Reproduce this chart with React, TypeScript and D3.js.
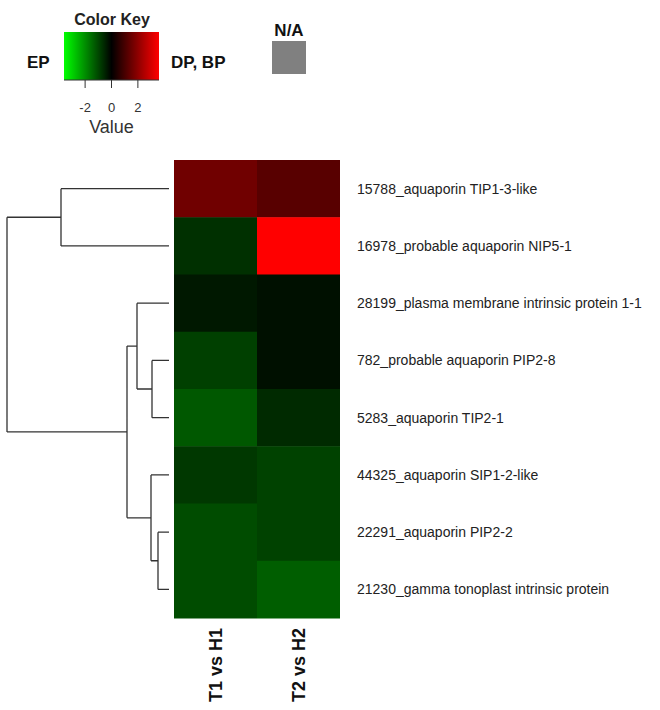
import * as d3 from 'd3';

const genes = [
    "15788_aquaporin TIP1-3-like",
    "16978_probable aquaporin NIP5-1",
    "28199_plasma membrane intrinsic protein 1-1",
    "782_probable aquaporin PIP2-8",
    "5283_aquaporin TIP2-1",
    "44325_aquaporin SIP1-2-like",
    "22291_aquaporin PIP2-2",
    "21230_gamma tonoplast intrinsic protein",
];
const comparisons = ["T1 vs H1", "T2 vs H2"];
const t1Values = [1.58, -0.68, -0.34, -0.9, -1.24, -0.79, -1.07, -1.07];
const t2Values = [1.24, 3.6, -0.23, -0.23, -0.59, -0.93, -0.93, -1.33];
const keyTicks = [-2, 0, 2];

// row dendrogram, merge heights
type Node = { name?: string; h: number; children?: Node[] };
const leaf = (i: number): Node => ({ name: genes[i], h: 0 });
const tree: Node = {
    h: 16.2,
    children: [
        { h: 10.8, children: [leaf(0), leaf(1)] },
        {
            h: 4.2,
            children: [
                { h: 3.2, children: [leaf(2), { h: 1.7, children: [leaf(3), leaf(4)] }] },
                { h: 1.8, children: [leaf(5), { h: 1.1, children: [leaf(6), leaf(7)] }] },
            ],
        },
    ],
};

const W = 660, H = 710;
const heat = { left: 174, right: 340, top: 160, bottom: 618 };
const dendro = { leafX: 169, rootX: 7 };
const key = { left: 64, right: 159, top: 32, bottom: 80 };
const FONT = "'Liberation Sans', Arial, sans-serif";

export default function App() {
    const x = d3.scaleBand().domain(comparisons).range([heat.left, heat.right]);
    const y = d3.scaleBand().domain(genes).range([heat.top, heat.bottom]);
    const color = d3.scaleLinear<string>()
        .domain([-3.6, 0, 3.6])
        .range(["#00ff00", "#000000", "#ff0000"])
        .clamp(true);
    const hx = d3.scaleLinear().domain([0, tree.h]).range([dendro.leafX, dendro.rootX]);
    const keyX = d3.scaleLinear().domain([-3.6, 3.6]).range([key.left, key.right]);

    const columns = [t1Values, t2Values];

    // walk the tree: leaf y is the row centre, a node sits halfway between its children
    const segs: string[] = [];
    const walk = (n: Node): number => {
        if (!n.children) return (y(n.name!) ?? 0) + y.bandwidth() / 2;
        const ys = n.children.map(walk);
        const px = hx(n.h);
        n.children.forEach((c, i) => {
            segs.push(`M${hx(c.h)},${ys[i]}H${px}`);
        });
        segs.push(`M${px},${ys[0]}V${ys[ys.length - 1]}`);
        return (ys[0] + ys[ys.length - 1]) / 2;
    };
    walk(tree);

    const gradStops = d3.range(-3.6, 3.61, 0.6);

    return (
        <div style={{ position: "absolute", left: 0, top: 0 }}>
            <svg width={W} height={H} style={{ display: "block", background: "#fff" }} fontFamily={FONT}>
                <defs>
                    <linearGradient id="keygrad" x1="0" x2="1" y1="0" y2="0">
                        {gradStops.map((v, i) => (
                            <stop key={i} offset={(v + 3.6) / 7.2} stopColor={color(v)} />
                        ))}
                    </linearGradient>
                </defs>

                {/* colour key */}
                <text x={(key.left + key.right) / 2 + 0.5} y={25} textAnchor="middle" fontWeight="bold" fontSize={16} fill="#222">Color Key</text>
                <rect x={key.left} y={key.top} width={key.right - key.left} height={key.bottom - key.top} fill="url(#keygrad)" />
                <line x1={key.left} x2={key.right} y1={key.bottom} y2={key.bottom} stroke="#333" />
                {keyTicks.map(t => (
                    <g key={t}>
                        <line x1={keyX(t)} x2={keyX(t)} y1={key.bottom} y2={key.bottom + 8} stroke="#333" />
                        <text x={keyX(t)} y={112} textAnchor="middle" fontSize={13} fill="#333">{t}</text>
                    </g>
                ))}
                <text x={keyX(0)} y={133} textAnchor="middle" fontSize={18} fill="#333">Value</text>
                <text x={27} y={68} fontWeight="bold" fontSize={17} fill="#111">EP</text>
                <text x={171} y={68} fontWeight="bold" fontSize={17} fill="#111">DP, BP</text>
                <text x={289} y={36} textAnchor="middle" fontWeight="bold" fontSize={17} fill="#111">N/A</text>
                <rect x={272} y={41} width={34} height={33} fill="#808080" />

                {/* heatmap cells */}
                {genes.map((g, r) =>
                    comparisons.map((c, k) => (
                        <rect key={g + c} x={x(c)} y={y(g)} width={x.bandwidth()} height={y.bandwidth() + 0.5}
                            fill={color(columns[k][r])} />
                    ))
                )}

                {/* dendrogram */}
                <path d={segs.join("")} fill="none" stroke="#333" strokeWidth={1.3} />

                {/* row labels */}
                {genes.map(g => (
                    <text key={g} x={heat.right + 17} y={(y(g) ?? 0) + y.bandwidth() / 2} dy="0.35em"
                        fontSize={14} fill="#222">{g}</text>
                ))}

                {/* column labels */}
                {comparisons.map(c => {
                    const cx = (x(c) ?? 0) + x.bandwidth() / 2;
                    return (
                        <text key={c} transform={`translate(${cx},628) rotate(-90)`} textAnchor="end" dy="0.35em"
                            fontWeight="bold" fontSize={18} fill="#111">{c}</text>
                    );
                })}
            </svg>
        </div>
    );
}
